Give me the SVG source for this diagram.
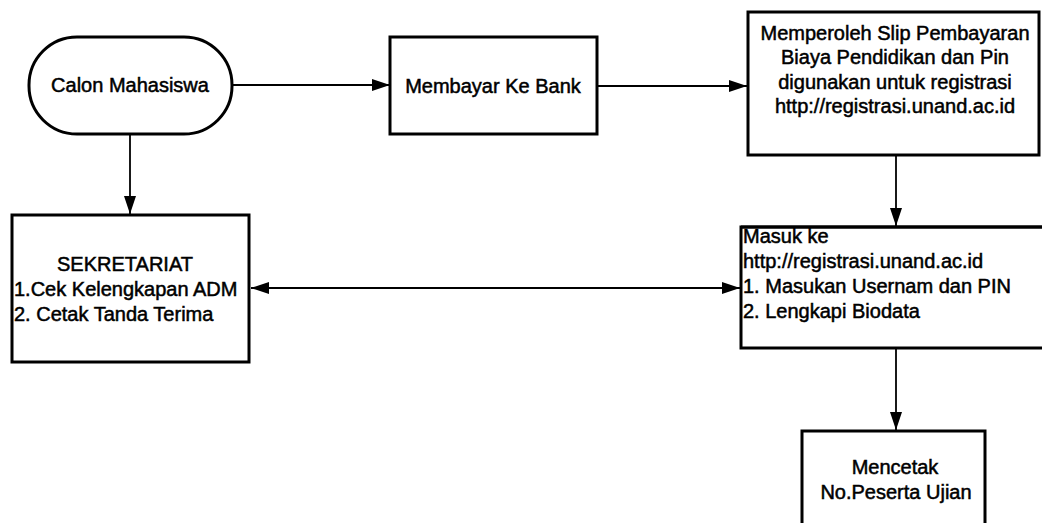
<svg xmlns="http://www.w3.org/2000/svg" width="1042" height="523" viewBox="0 0 1042 523">
<style>
.box{fill:#fff;stroke:#000;stroke-width:3}
.t{font-family:"Liberation Sans",Arial,sans-serif;font-size:20px;fill:#000;stroke:#000;stroke-width:0.5}
.m{text-anchor:middle}
.c{fill:none;stroke:#000;stroke-width:1.8}
</style>
<defs>
<marker id="ah" viewBox="0 0 18 12" refX="18" refY="6" markerWidth="18" markerHeight="12" markerUnits="userSpaceOnUse" orient="auto-start-reverse">
<path d="M0,0 L18,6 L0,12 Z" fill="#000"/>
</marker>
</defs>
<rect width="1042" height="523" fill="#fff"/>
<g id="connectors">
<line class="c" x1="232" y1="85" x2="390" y2="85" marker-end="url(#ah)"/>
<line class="c" x1="597" y1="86" x2="747" y2="86" marker-end="url(#ah)"/>
<line class="c" x1="130" y1="135" x2="130" y2="214" marker-end="url(#ah)"/>
<line class="c" x1="896" y1="156" x2="896" y2="226" marker-end="url(#ah)"/>
<line class="c" x1="251" y1="288" x2="740" y2="288" marker-start="url(#ah)" marker-end="url(#ah)"/>
<line class="c" x1="896" y1="349" x2="896" y2="430" marker-end="url(#ah)"/>
</g>
<g id="calon">
<rect class="box" x="29" y="37" width="203" height="97" rx="48" ry="48"/>
<text class="t m" x="130" y="92">Calon Mahasiswa</text>
</g>
<g id="membayar">
<rect class="box" x="390" y="37" width="207" height="97"/>
<text class="t m" x="493" y="93">Membayar Ke Bank</text>
</g>
<g id="memperoleh">
<rect class="box" x="748" y="12" width="291" height="143"/>
<text class="t m" x="895" y="40">Memperoleh Slip Pembayaran</text>
<text class="t m" x="895" y="64">Biaya Pendidikan dan Pin</text>
<text class="t m" x="895" y="89">digunakan untuk registrasi</text>
<text class="t m" x="895" y="113">http://registrasi.unand.ac.id</text>
</g>
<g id="sekretariat">
<rect class="box" x="12" y="215" width="237" height="147"/>
<text class="t m" x="125" y="271">SEKRETARIAT</text>
<text class="t" x="14" y="296">1.Cek Kelengkapan ADM</text>
<text class="t" x="14" y="321">2. Cetak Tanda Terima</text>
</g>
<g id="masuk">
<rect class="box" x="741" y="227" width="310" height="121"/>
<text class="t" x="743" y="243">Masuk ke</text>
<text class="t" x="743" y="268">http://registrasi.unand.ac.id</text>
<text class="t" x="743" y="293">1. Masukan Usernam dan PIN</text>
<text class="t" x="743" y="318">2. Lengkapi Biodata</text>
<line x1="741" y1="227" x2="1042" y2="227" stroke="#000" stroke-width="3"/>
</g>
<g id="mencetak">
<rect class="box" x="802" y="431" width="183" height="100"/>
<text class="t m" x="895" y="474">Mencetak</text>
<text class="t m" x="896" y="499">No.Peserta Ujian</text>
</g>
</svg>
